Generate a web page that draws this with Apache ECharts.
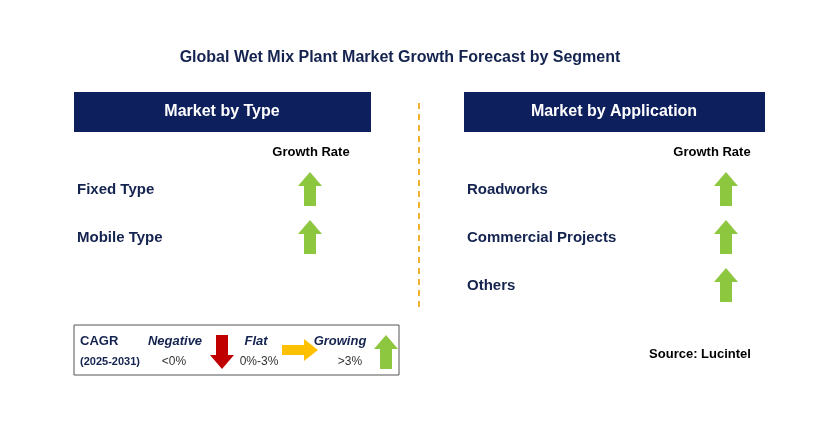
<!DOCTYPE html>
<html><head><meta charset="utf-8">
<script src="https://cdn.jsdelivr.net/npm/echarts@6/dist/echarts.min.js"></script>
<style>html,body{margin:0;padding:0;background:#fff}#c{width:829px;height:437px}</style>
</head><body><div id="c"></div>
<script>
const title = 'Global Wet Mix Plant Market Growth Forecast by Segment';
const typeCategories = ['Fixed Type', 'Mobile Type'];
const typeGrowth = ['up', 'up'];
const appCategories = ['Roadworks', 'Commercial Projects', 'Others'];
const appGrowth = ['up', 'up', 'up'];
const legendLabels = ['Negative', 'Flat', 'Growing'];
const legendRanges = ['<0%', '0%-3%', '>3%'];

const NAVY = '#0d1f5c', TXT = '#14234f', GREEN = '#8dc63f', RED = '#c00000', YEL = '#ffc000';
function arrow(dir, cx, cy, color) {
  let pts;
  if (dir === 'up') pts = [[0,-17],[12,-3],[6,-3],[6,17],[-6,17],[-6,-3],[-12,-3]];
  else if (dir === 'down') pts = [[0,17],[12,3],[6,3],[6,-17],[-6,-17],[-6,3],[-12,3]];
  else pts = [[18,0],[4,-11],[4,-5],[-18,-5],[-18,5],[4,5],[4,11]];
  return {type:'polygon', shape:{points:pts.map(p=>[cx+p[0],cy+p[1]])}, style:{fill:color}};
}
function txt(x,y,t,o){return Object.assign({type:'text',x:x,y:y,style:Object.assign({text:t,fill:TXT,font:'bold 15px Arial, "Liberation Sans"',textVerticalAlign:'middle'},o||{})});}
const g = [];
g.push(txt(400,58,title,{textAlign:'center',font:'bold 16px Arial, "Liberation Sans"'}));
g.push({type:'rect',shape:{x:74,y:92,width:297,height:40},style:{fill:NAVY}});
g.push({type:'rect',shape:{x:464,y:92,width:301,height:40},style:{fill:NAVY}});
g.push(txt(222,112,'Market by Type',{fill:'#fff',textAlign:'center',font:'bold 16px Arial, "Liberation Sans"'}));
g.push(txt(614,112,'Market by Application',{fill:'#fff',textAlign:'center',font:'bold 16px Arial, "Liberation Sans"'}));
g.push(txt(311,152,'Growth Rate',{textAlign:'center',fill:'#000',font:'bold 13px Arial, "Liberation Sans"'}));
g.push(txt(712,152,'Growth Rate',{textAlign:'center',fill:'#000',font:'bold 13px Arial, "Liberation Sans"'}));
const col = d => d==='up'?GREEN:d==='down'?RED:YEL;
typeCategories.forEach((c,i)=>{g.push(txt(77,190+48*i,c));g.push(arrow(typeGrowth[i],310,189+48*i,col(typeGrowth[i])));});
appCategories.forEach((c,i)=>{g.push(txt(467,190+48*i,c));g.push(arrow(appGrowth[i],726,189+48*i,col(appGrowth[i])));});
g.push({type:'line',shape:{x1:419,y1:103,x2:419,y2:310},style:{stroke:'#f0b030',lineWidth:2,lineDash:[6,5]}});
g.push({type:'rect',shape:{x:74,y:325,width:325,height:50},style:{fill:'#fff',stroke:'#555',lineWidth:1}});
g.push(txt(80,341,'CAGR',{font:'bold 13px Arial, "Liberation Sans"'}));
g.push(txt(80,362,'(2025-2031)',{font:'bold 11px Arial, "Liberation Sans"'}));
const lx=[175,256,340], rx=[174,259,350], ax=[222,300,386], dirs=['down','right','up'];
legendLabels.forEach((l,i)=>{
  g.push(txt(lx[i],341,l,{textAlign:'center',font:'italic bold 13px Arial, "Liberation Sans"'}));
  g.push(txt(rx[i],362,legendRanges[i],{textAlign:'center',font:'12px Arial, "Liberation Sans"',fill:'#333'}));
  g.push(arrow(dirs[i],ax[i],dirs[i]==='right'?350:352,col(dirs[i])));
});
g.push(txt(700,354,'Source: Lucintel',{textAlign:'center',fill:'#000',font:'bold 13px Arial, "Liberation Sans"'}));
echarts.init(document.getElementById('c')).setOption({animation:false,graphic:g});
</script></body></html>
